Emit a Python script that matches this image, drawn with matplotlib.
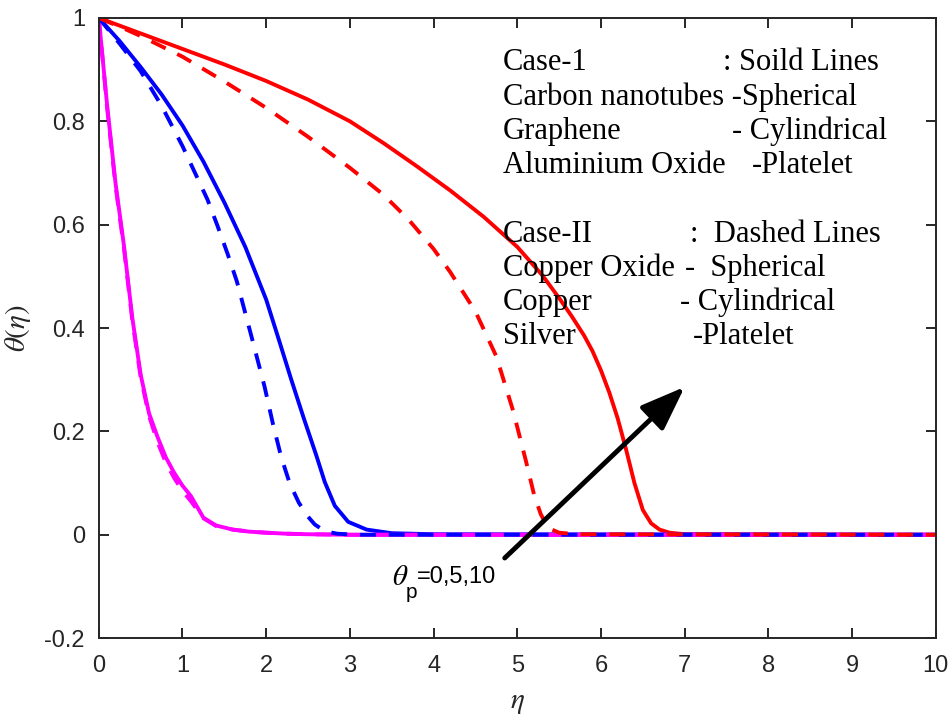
import matplotlib.pyplot as plt
import numpy as np

# Case-1 (solid) and Case-II (dashed), theta_p = 0, 5, 10
eta_red_solid = [0, 0.25, 0.5, 1, 1.5, 2, 2.5, 3, 3.4, 3.8, 4.2, 4.6, 5.0, 5.3, 5.5, 5.65, 5.8, 5.9, 6.0, 6.1, 6.2, 6.3, 6.4, 6.5, 6.6, 6.7, 6.82, 7.0, 10]
th_red_solid = [1, 0.985, 0.97, 0.94, 0.91, 0.878, 0.842, 0.80, 0.758, 0.713, 0.666, 0.615, 0.557, 0.502, 0.458, 0.423, 0.385, 0.355, 0.318, 0.275, 0.225, 0.165, 0.10, 0.048, 0.022, 0.01, 0.004, 0.001, 0]

eta_red_dash = [0, 0.25, 0.5, 1, 1.5, 2, 2.5, 3, 3.4, 3.7, 4.0, 4.2, 4.5, 4.75, 4.95, 5.1, 5.2, 5.28, 5.37, 5.5, 5.7, 10]
th_red_dash = [1, 0.983, 0.965, 0.925, 0.877, 0.826, 0.77, 0.71, 0.658, 0.61, 0.553, 0.508, 0.432, 0.345, 0.24, 0.145, 0.078, 0.04, 0.013, 0.004, 0.001, 0]

eta_blue_solid = [0, 0.25, 0.5, 0.75, 1.0, 1.25, 1.5, 1.75, 2.0, 2.15, 2.3, 2.45, 2.6, 2.7, 2.82, 2.98, 3.2, 3.5, 4, 10]
th_blue_solid = [1, 0.955, 0.905, 0.852, 0.792, 0.722, 0.643, 0.557, 0.455, 0.378, 0.30, 0.225, 0.153, 0.102, 0.056, 0.025, 0.01, 0.003, 0.001, 0]

eta_blue_dash = [0, 0.25, 0.5, 0.75, 1.0, 1.15, 1.3, 1.42, 1.54, 1.65, 1.74, 1.83, 1.98, 2.08, 2.18, 2.28, 2.39, 2.5, 2.58, 2.7, 2.85, 3.1, 10]
th_blue_dash = [1, 0.95, 0.897, 0.83, 0.752, 0.70, 0.648, 0.597, 0.543, 0.49, 0.435, 0.38, 0.287, 0.215, 0.15, 0.10, 0.062, 0.035, 0.02, 0.007, 0.002, 0, 0]

eta_mag_solid = [0, 0.1, 0.2, 0.3, 0.4, 0.5, 0.6, 0.7, 0.8, 0.9, 1.0, 1.1, 1.25, 1.4, 1.6, 1.8, 2.0, 2.25, 2.5, 3, 10]
th_mag_solid = [1, 0.83, 0.68, 0.56, 0.42, 0.31, 0.235, 0.19, 0.15, 0.12, 0.095, 0.075, 0.033, 0.018, 0.01, 0.006, 0.004, 0.002, 0.001, 0, 0]

eta_mag_dash = [0, 0.1, 0.2, 0.3, 0.4, 0.5, 0.6, 0.7, 0.8, 0.9, 1.0, 1.1, 1.25, 1.4, 1.6, 1.8, 2.0, 2.25, 2.5, 3, 10]
th_mag_dash = [1, 0.825, 0.675, 0.555, 0.415, 0.305, 0.23, 0.18, 0.14, 0.11, 0.085, 0.065, 0.032, 0.017, 0.01, 0.006, 0.004, 0.002, 0.001, 0, 0]

# text block: (left part, right part, x of right part)
left_text = ["Case-1", "Carbon nanotubes -Spherical", "Graphene", "Aluminium Oxide",
             "Case-II", "Copper Oxide", "Copper", "Silver"]
right_text = [": Soild Lines", "", "- Cylindrical", "-Platelet",
              ":  Dashed Lines", "-  Spherical", "- Cylindrical", "-Platelet"]
right_x = [7.455, 0, 7.563, 7.80, 7.06, 7.0, 6.94, 7.10]
line_y = [0.913, 0.846, 0.780, 0.714, 0.581, 0.515, 0.449, 0.383]

plt.rcParams['mathtext.fontset'] = 'stix'
plt.rcParams['font.family'] = ['Liberation Sans', 'DejaVu Sans']

fig = plt.figure(figsize=(9.5, 7.17), dpi=100)
ax = fig.add_axes([0.104, 0.110, 0.881, 0.865])

lw = 2.8
dash = (4.1, 3.3)
ax.plot(eta_red_solid, th_red_solid, color='red', lw=lw)
ax.plot(eta_blue_solid, th_blue_solid, color='blue', lw=lw)
ax.plot(eta_mag_solid, th_mag_solid, color='magenta', lw=lw)
ax.plot(eta_mag_dash, th_mag_dash, color='magenta', lw=lw, dashes=dash)
ax.plot(eta_blue_dash, th_blue_dash, color='blue', lw=lw, dashes=dash)
ax.plot(eta_red_dash, th_red_dash, color='red', lw=lw, dashes=dash)

ax.set_xlim(0, 10)
ax.set_ylim(-0.2, 1)
ax.set_xticks(np.arange(0, 11, 1))
ax.set_yticks([-0.2, 0, 0.2, 0.4, 0.6, 0.8, 1])
ax.set_yticklabels(['-0.2', '0', '0.2', '0.4', '0.6', '0.8', '1'])
ax.tick_params(direction='in', top=True, right=True, length=7, width=1.4,
               labelsize=17, colors='#262626')
ax.tick_params(axis='x', pad=12)
ax.tick_params(axis='y', pad=10)
for s in ax.spines.values():
    s.set_linewidth(1.4)
    s.set_color('#262626')

ax.set_xlabel(r'$\eta$', fontsize=21, color='#262626', labelpad=8)
ax.set_ylabel(r'$\theta(\eta)$', fontsize=21, color='#262626', labelpad=8)

for lt, rt, rx, yy in zip(left_text, right_text, right_x, line_y):
    ax.text(4.83, yy, lt, fontsize=22, family='Liberation Serif', va='center', ha='left')
    if rt:
        ax.text(rx, yy, rt, fontsize=22, family='Liberation Serif', va='center', ha='left')

ax.annotate('', xy=(7.0, 0.286), xytext=(4.85, -0.045),
            arrowprops=dict(arrowstyle='-|>,head_length=0.4,head_width=0.15',
                            lw=3.5, color='k', mutation_scale=68, shrinkA=0, shrinkB=0))
# theta_p label
ax.text(3.50, -0.081, r'$\theta$', fontsize=21, va='center', ha='left')
ax.text(3.67, -0.112, 'p', fontsize=15, va='center', ha='left')
ax.text(3.80, -0.081, '=0,5,10', fontsize=17, va='center', ha='left')

fig.savefig('out.png', dpi=100)
